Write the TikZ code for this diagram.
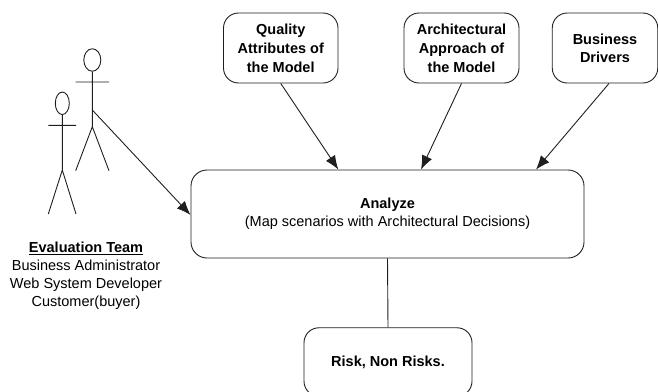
\documentclass[tikz,border=0pt]{standalone}
\usepackage{fontspec}
\setmainfont{Liberation Sans}
\usetikzlibrary{arrows.meta,shapes.geometric,calc}
\definecolor{ink}{gray}{0.12}
\tikzset{
  boxnode/.style={draw=ink,rounded corners=15pt,align=center,inner sep=0pt,font=\fontsize{14.5}{19}\selectfont\bfseries},
  conn/.style={draw=ink,-{Latex[length=14pt,width=11pt]}},
  lineart/.style={draw=ink},
  headnode/.style={draw=ink,ellipse,inner sep=0pt},
  plain/.style={align=center,inner sep=0pt,font=\fontsize{14.5}{18}\selectfont}
}
\begin{document}
\begin{tikzpicture}[x=1pt,y=-1pt,line width=0.9pt]
\path[use as bounding box] (0,0) rectangle (658,391);
\clip (0,0) rectangle (658,391);
\node[boxnode,minimum width=114.5pt,minimum height=70pt] (q) at (280.75,48) {Quality\\Attributes of\\the Model};
\node[boxnode,minimum width=115pt,minimum height=70pt] (a) at (461.5,48) {Architectural\\Approach of\\the Model};
\node[boxnode,minimum width=105.5pt,minimum height=70pt,font=\fontsize{14.5}{17.7}\selectfont\bfseries] (b) at (605,48) {Business\\Drivers};
\node[boxnode,minimum width=393pt,minimum height=88pt,font=\fontsize{14.5}{17.7}\selectfont,rounded corners=16pt] (an) at (387.5,214) {\textbf{Analyze}\\(Map scenarios with Architectural Decisions)};
\node[boxnode,minimum width=168pt,minimum height=68.5pt] (r) at (388,362) {Risk, Non Risks.};
\draw[conn] (q.south) -- ([xshift=-49.2pt]an.north);
\draw[conn] (a.south) -- ([xshift=33.5pt]an.north);
\draw[conn] ([xshift=4pt]b.south) -- ([xshift=148.5pt]an.north);
\draw[lineart] (an.south) -- (r.north);
% large actor
\node[headnode,minimum width=17pt,minimum height=22.5pt] (h1) at (92.3,60) {};
\coordinate (c1) at (92.3,126.7);
\coordinate (w1) at (92.3,110);
\draw[lineart] (h1.south) -- (c1) -- (75.7,170.7) (c1) -- (109,170.7) (75.7,82) -- (109,82);
\draw[conn] (w1) -- ([yshift=-1pt]an.west);
% small actor
\node[headnode,minimum width=14pt,minimum height=22.5pt] (h2) at (62.3,103.3) {};
\coordinate (c2) at (62.3,170);
\draw[lineart] (h2.south) -- (c2) -- (48.3,214) (c2) -- (76,214) (48.3,125.3) -- (76,125.3);
\node[plain] (t) at (86,275.5) {\textbf{\underline{Evaluation Team}}\\Business Administrator\\Web System Developer\\Customer(buyer)};
\end{tikzpicture}
\end{document}
